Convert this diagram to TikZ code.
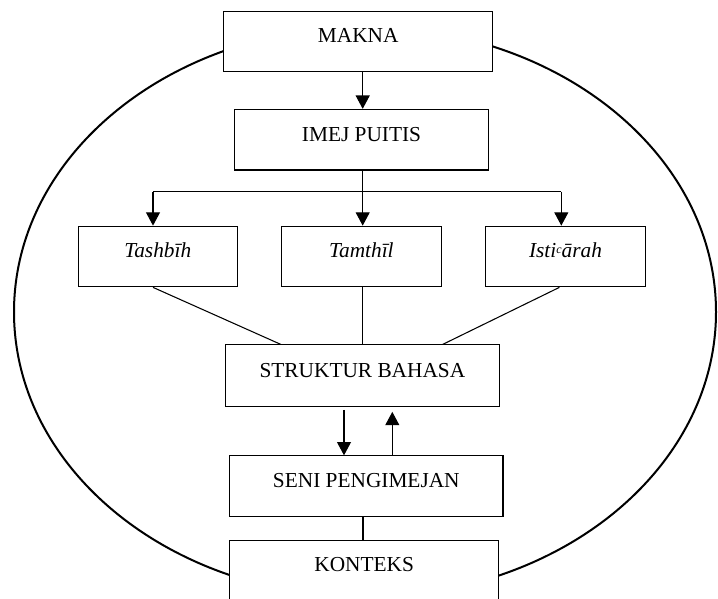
\documentclass[tikz,border=0pt]{standalone}
\usepackage{fontspec}
\setmainfont{Liberation Serif}
\usetikzlibrary{arrows.meta}
\begin{document}
\begin{tikzpicture}[x=0.75pt, y=-0.75pt, >={Triangle[length=10pt,width=10.5pt]},
    kotak/.style={draw, fill=white, line width=0.8pt, minimum width=#1, minimum height=45.5pt,
      inner sep=0pt, text height=11pt, text depth=9pt, font=\fontsize{16}{19}\selectfont},
    garis/.style={line width=0.8pt}]
    \useasboundingbox (0,0) rectangle (718,599);
    \clip (0,0) rectangle (718,599);
    \draw[line width=1.5pt] (365,312) ellipse [x radius=351, y radius=285];

    \node[kotak=201.75pt] (makna) at (358.2,41.5) {MAKNA};
    \node[kotak=190.2pt] (imej) at (361.5,139.7) {IMEJ PUITIS};
    \node[kotak=119.3pt, font=\fontsize{16}{19}\selectfont\itshape] (tashbih) at (157.8,256.5) {Tashbīh};
    \node[kotak=120.2pt, font=\fontsize{16}{19}\selectfont\itshape] (tamthil) at (361.4,256.5) {Tamthīl};
    \node[kotak=120pt, font=\fontsize{16}{19}\selectfont\itshape] (isticarah) at (565.5,256.5)
      {Isti\raisebox{0.45ex}{\fontsize{9}{9}\selectfont c}ārah};
    \node[kotak=205pt, minimum height=46.3pt] (struktur) at (362.4,375.8) {STRUKTUR BAHASA};
    \node[kotak=205pt] (seni) at (366.3,486.2) {SENI PENGIMEJAN};
    \node[kotak=201.75pt] (konteks) at (364.2,570.6) {KONTEKS};

    \draw[garis, ->] (makna.south -| 362.7,0) -- (imej.north -| 362.7,0);
    \draw[garis] (imej.south -| 362.7,0) -- (362.7,191.7) coordinate (cabang);
    \draw[garis, ->] (cabang -| 153,0) -- (tashbih.north -| 153,0);
    \draw[garis, ->] (cabang) -- (tamthil.north -| 362.7,0);
    \draw[garis, ->] (cabang -| 561.3,0) -- (isticarah.north -| 561.3,0);
    \draw[garis] (cabang -| 153,0) -- (cabang -| 561.3,0);

    \draw[garis] (tashbih.south -| 153,0) -- (struktur.north -| 280.8,0);
    \draw[garis] (tamthil.south -| 362.7,0) -- (struktur.north -| 362.7,0);
    \draw[garis] (isticarah.south -| 559.4,0) -- (struktur.north -| 442.7,0);

    \draw[garis, ->, shorten <=2pt] (struktur.south -| 344,0) -- (seni.north -| 344,0);
    \draw[garis, ->, shorten >=3.5pt] (seni.north -| 392.3,0) -- (struktur.south -| 392.3,0);
    \draw[garis] (seni.south -| 363,0) -- (konteks.north -| 363,0);
\end{tikzpicture}
\end{document}
